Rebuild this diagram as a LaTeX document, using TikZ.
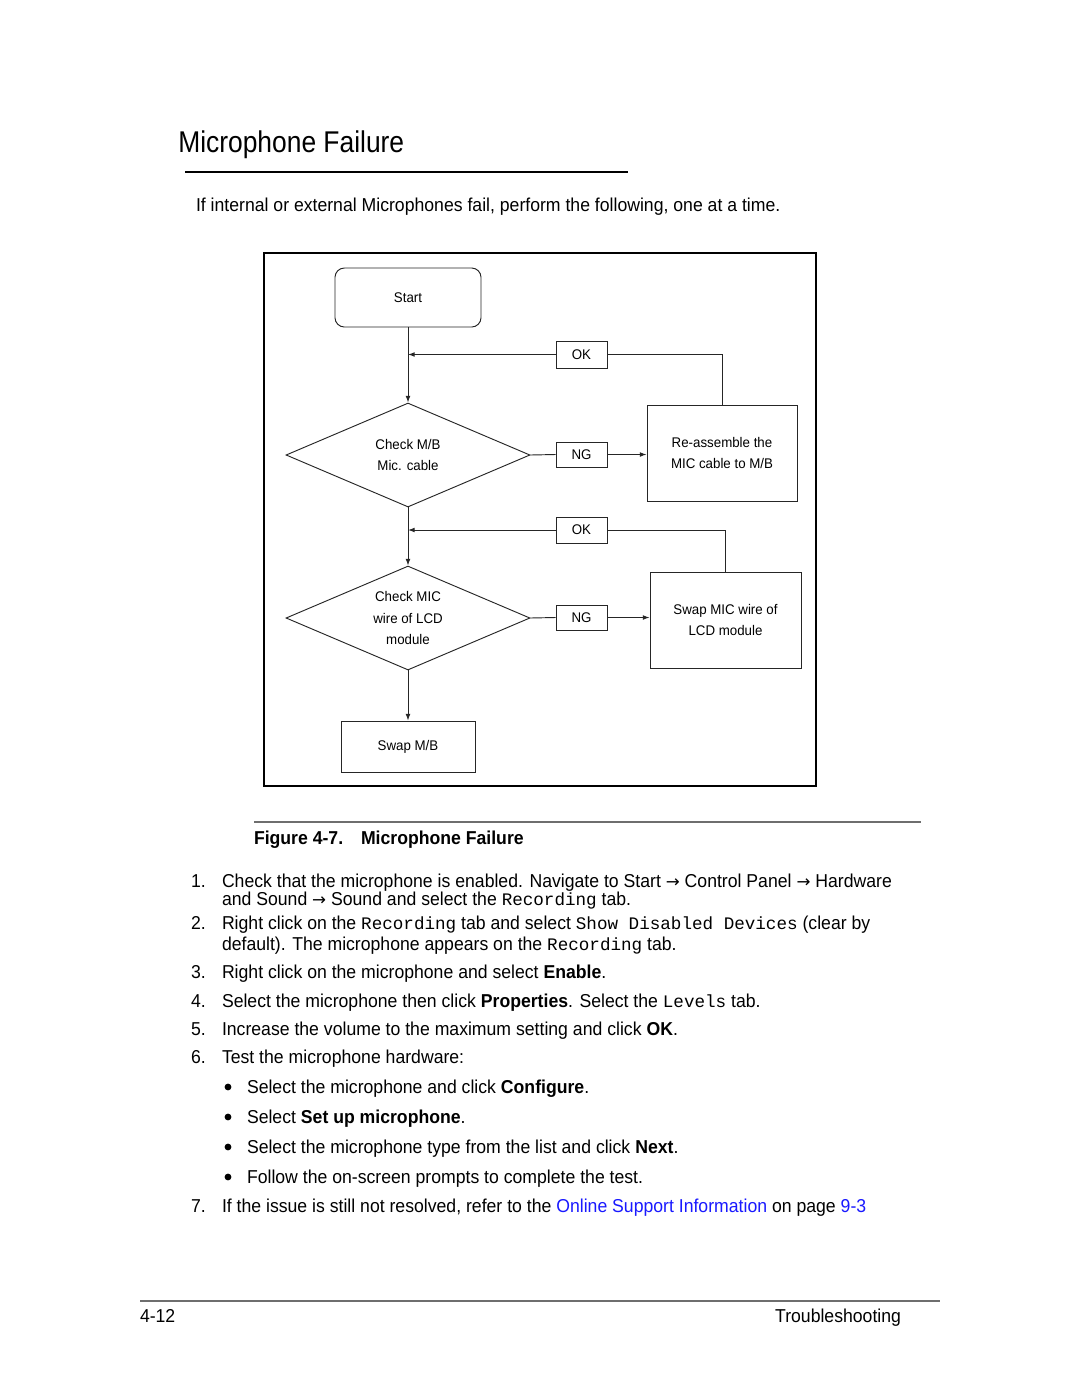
\documentclass[tikz,border=0pt]{standalone}
\usepackage{fontspec}
\setmainfont{Liberation Sans}[FakeStretch=0.945]
\setmonofont{Liberation Mono}
\newfontfamily\titlefont{Liberation Sans}[FakeStretch=0.88]
\newfontfamily\flowfont{Liberation Sans}[FakeStretch=0.95]
\newfontfamily\arrowfont{DejaVu Sans}
\usetikzlibrary{shapes.geometric,arrows.meta}
\definecolor{linkblue}{RGB}{25,25,255}
\definecolor{rulegray}{RGB}{110,110,110}
\newcommand\mono[1]{{\ttfamily\fontsize{13.2}{16}\selectfont #1}}
\newcommand\navarrow{{\arrowfont\fontsize{12.5}{12.5}\selectfont →}}
\begin{document}
\begin{tikzpicture}[x=0.75pt,y=-0.75pt,
  txt/.style={anchor=base west,inner sep=0,outer sep=0,font=\fontsize{14}{16}\selectfont},
  flow/.style={draw=black!85,line width=0.7pt,inner sep=0,font=\flowfont\fontsize{10.5}{16}\selectfont,align=center},
  box/.style={flow,rectangle},
  tag/.style={flow,rectangle,minimum width={51*0.75pt}},
  dec/.style={flow,diamond,shape aspect=2.3,minimum width={244*0.75pt},minimum height={104*0.75pt}},
  conn/.style={draw=black!85,line width=0.7pt},
  arr/.style={conn,-{Latex[length=5pt,width=3.6pt]}}
]
\fill[white] (0,0) rectangle (1080,1397);
\useasboundingbox (0,0) rectangle (1080,1397);

% title
\node[anchor=base west,inner sep=0,font=\titlefont\fontsize{22.5}{26}\selectfont] (title) at (178,152) {Microphone Failure};
\draw[line width=1.5pt] (185,172) -- (628,172);
\node[txt] (intro) at (196,211) {If internal or external Microphones fail, perform the following, one at a time.};

% frame
\draw[line width=1.8pt] (264,253) rectangle (816,786);

% flowchart
\node[box,rounded corners=7pt,minimum width={146*0.75pt},minimum height={59*0.75pt}] (start) at (408,297.5) {Start};
\node[dec] (d1) at (408,455) {Check M/B\\Mic. cable};
\node[dec] (d2) at (408,618) {Check MIC\\wire of LCD\\module};
\node[tag,minimum height={27*0.75pt}] (ok1) at (581.5,354.5) {OK};
\node[tag,minimum height={25*0.75pt}] (ng1) at (581.5,454.5) {NG};
\node[tag,minimum height={26*0.75pt}] (ok2) at (581.5,530) {OK};
\node[tag,minimum height={25*0.75pt}] (ng2) at (581.5,617.5) {NG};
\node[box,minimum width={150*0.75pt},minimum height={96*0.75pt}] (re) at (722,453) {Re-assemble the\\MIC cable to M/B};
\node[box,minimum width={151*0.75pt},minimum height={96*0.75pt}] (sw) at (725.5,620) {Swap MIC wire of\\LCD module};
\node[box,minimum width={134*0.75pt},minimum height={51*0.75pt}] (mb) at (408,746.5) {Swap M/B};

\draw[arr] (start.south) -- (d1.north);
\draw[arr] (ok1.west) -- (ok1.west -| start.south);
\draw[conn] (re.north) |- (ok1.east);
\draw[conn] (d1.east) -- (ng1.west);
\draw[arr] (ng1.east) -- (re.west |- ng1.east);
\draw[arr] (d1.south) -- (d2.north);
\draw[arr] (ok2.west) -- (ok2.west -| d1.south);
\draw[conn] (sw.north) |- (ok2.east);
\draw[conn] (d2.east) -- (ng2.west);
\draw[arr] (ng2.east) -- (sw.west |- ng2.east);
\draw[arr] (d2.south) -- (mb.north);

% caption
\draw[rulegray,line width=0.8pt] (254,822) -- (921,822);
\node[txt,font=\fontsize{14}{16}\selectfont\bfseries] (fig) at (254,844) {Figure 4-7.};
\node[txt,font=\fontsize{14}{16}\selectfont\bfseries] (figt) at (361,844) {Microphone Failure};

% list
\node[txt] (n1) at (191,887) {1.};
\node[txt] (t1a) at (222,887) {Check that the microphone is enabled. Navigate to Start \navarrow{} Control Panel \navarrow{} Hardware};
\node[txt] (t1b) at (222,905) {and Sound \navarrow{} Sound and select the \mono{Recording} tab.};
\node[txt] (n2) at (191,929) {2.};
\node[txt] (t2a) at (222,929) {Right click on the \mono{Recording} tab and select \mono{Show Disabled Devices} (clear by};
\node[txt] (t2b) at (222,950) {default). The microphone appears on the \mono{Recording} tab.};
\node[txt] (n3) at (191,978) {3.};
\node[txt] (t3) at (222,978) {Right click on the microphone and select \textbf{Enable}.};
\node[txt] (n4) at (191,1007) {4.};
\node[txt] (t4) at (222,1007) {Select the microphone then click \textbf{Properties}. Select the \mono{Levels} tab.};
\node[txt] (n5) at (191,1035) {5.};
\node[txt] (t5) at (222,1035) {Increase the volume to the maximum setting and click \textbf{OK}.};
\node[txt] (n6) at (191,1063) {6.};
\node[txt] (t6) at (222,1063) {Test the microphone hardware:};
\fill (228,1087) circle (3.4);
\node[txt] (b1) at (247,1093) {Select the microphone and click \textbf{Configure}.};
\fill (228,1117) circle (3.4);
\node[txt] (b2) at (247,1123) {Select \textbf{Set up microphone}.};
\fill (228,1147) circle (3.4);
\node[txt] (b3) at (247,1153) {Select the microphone type from the list and click \textbf{Next}.};
\fill (228,1177) circle (3.4);
\node[txt] (b4) at (247,1183) {Follow the on-screen prompts to complete the test.};
\node[txt] (n7) at (191,1212) {7.};
\node[txt] (t7) at (222,1212) {If the issue is still not resolved, refer to the \textcolor{linkblue}{Online Support Information} on page \textcolor{linkblue}{9-3}};

% footer
\draw[rulegray,line width=0.8pt] (140,1301) -- (940,1301);
\node[txt] (pg) at (140,1322) {4-12};
\node[txt,anchor=base east] (sec) at (901,1322) {Troubleshooting};
\end{tikzpicture}
\end{document}
